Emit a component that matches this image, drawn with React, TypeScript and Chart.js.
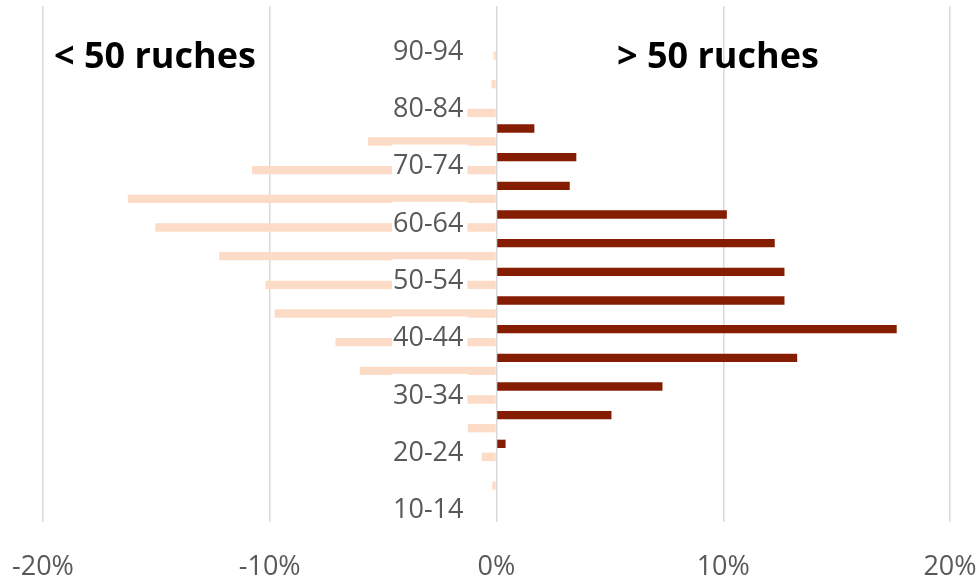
import React, { useEffect, useRef } from "react";
import { Chart, registerables } from "chart.js";

Chart.register(...registerables);

// Age classes, top to bottom
const ageClasses = [
  "95-99", "90-94", "85-89", "80-84", "75-79", "70-74", "65-69", "60-64", "55-59",
  "50-54", "45-49", "40-44", "35-39", "30-34", "25-29", "20-24", "15-19", "10-14",
];

// Share of beekeepers (%) with more than 50 hives
const over50Hives = [0, 0, 0, 0, 1.67, 3.52, 3.23, 10.16, 12.27, 12.7, 12.7, 17.65, 13.26, 7.32, 5.07, 0.4, 0, 0];

// Share of beekeepers (%) with fewer than 50 hives (drawn to the left)
const under50Hives = [0, 0.12, 0.22, 2.0, 5.67, 10.78, 16.26, 15.05, 12.23, 10.19, 9.79, 7.1, 6.03, 2.5, 1.27, 0.65, 0.19, 0];

const xTicks = [-20, -10, 0, 10, 20];

const leftTitle = "< 50 ruches";
const rightTitle = "> 50 ruches";

export default function App() {
  const canvasRef = useRef<HTMLCanvasElement | null>(null);

  useEffect(() => {
    const canvas = canvasRef.current;
    if (!canvas) return;
    const chart = new Chart(canvas, {
      type: "bar",
      data: {
        labels: ageClasses,
        datasets: [
          {
            label: rightTitle,
            data: over50Hives,
            backgroundColor: "#841d02",
            borderWidth: 0,
          },
          {
            label: leftTitle,
            data: under50Hives.map((v) => -v),
            backgroundColor: "#fcdcc6",
            borderWidth: 0,
          },
        ],
      },
      options: {
        indexAxis: "y",
        responsive: false,
        animation: false,
        maintainAspectRatio: false,
        layout: { padding: { left: 43, right: 30, top: 6, bottom: 0 } },
        datasets: {
          bar: { categoryPercentage: 0.907, barPercentage: 0.64 },
        },
        plugins: {
          legend: { display: false },
          tooltip: { enabled: false },
        },
        scales: {
          x: {
            type: "linear",
            min: xTicks[0],
            max: xTicks[xTicks.length - 1],
            afterBuildTicks: (scale: any) => {
              scale.ticks = xTicks.map((v) => ({ value: v }));
            },
            grid: { color: "#d9d9d9", lineWidth: 1.5, drawTicks: false },
            border: { display: false },
            ticks: {
              padding: 29,
              color: "#595959",
              font: { family: "'Open Sans'", size: 27 },
              callback: (v: any) => `${v}%`,
            },
            afterFit: (scale: any) => {
              scale.height = 57;
              scale.paddingLeft = 0;
              scale.paddingRight = 0;
            },
          },
          y: {
            type: "category",
            position: "left",
            grid: { display: false, drawTicks: false },
            border: { display: false },
            ticks: {
              z: 1,
              mirror: true,
              padding: 350,
              labelOffset: 3,
              autoSkip: false,
              color: "#595959",
              font: { family: "'Open Sans'", size: 27, lineHeight: 1.2 },
              callback: function (this: any, v: any, i: number) {
                return i % 2 === 1 ? this.getLabelForValue(v) : "";
              },
              showLabelBackdrop: (ctx: any) => ctx.index % 2 === 1,
              backdropColor: "#ffffff",
              backdropPadding: { top: 6, bottom: 6, left: 1, right: 4 },
            } as any,
            afterFit: (scale: any) => {
              scale.width = 0;
              scale.paddingTop = 0;
              scale.paddingBottom = 0;
            },
          },
        },
      },
    });
    return () => chart.destroy();
  }, []);

  const titleStyle: React.CSSProperties = {
    position: "absolute",
    top: 37,
    fontFamily: "'Open Sans', sans-serif",
    fontWeight: 700,
    fontSize: 36,
    lineHeight: "36px",
    color: "#000000",
    whiteSpace: "nowrap",
  };

  return (
    <div style={{ position: "absolute", left: 0, top: 0, width: 980, height: 579, background: "#ffffff" }}>
      <canvas ref={canvasRef} width={980} height={579} style={{ display: "block" }} />
      <div style={{ ...titleStyle, left: 54 }}>{leftTitle}</div>
      <div style={{ ...titleStyle, left: 617 }}>{rightTitle}</div>
    </div>
  );
}
